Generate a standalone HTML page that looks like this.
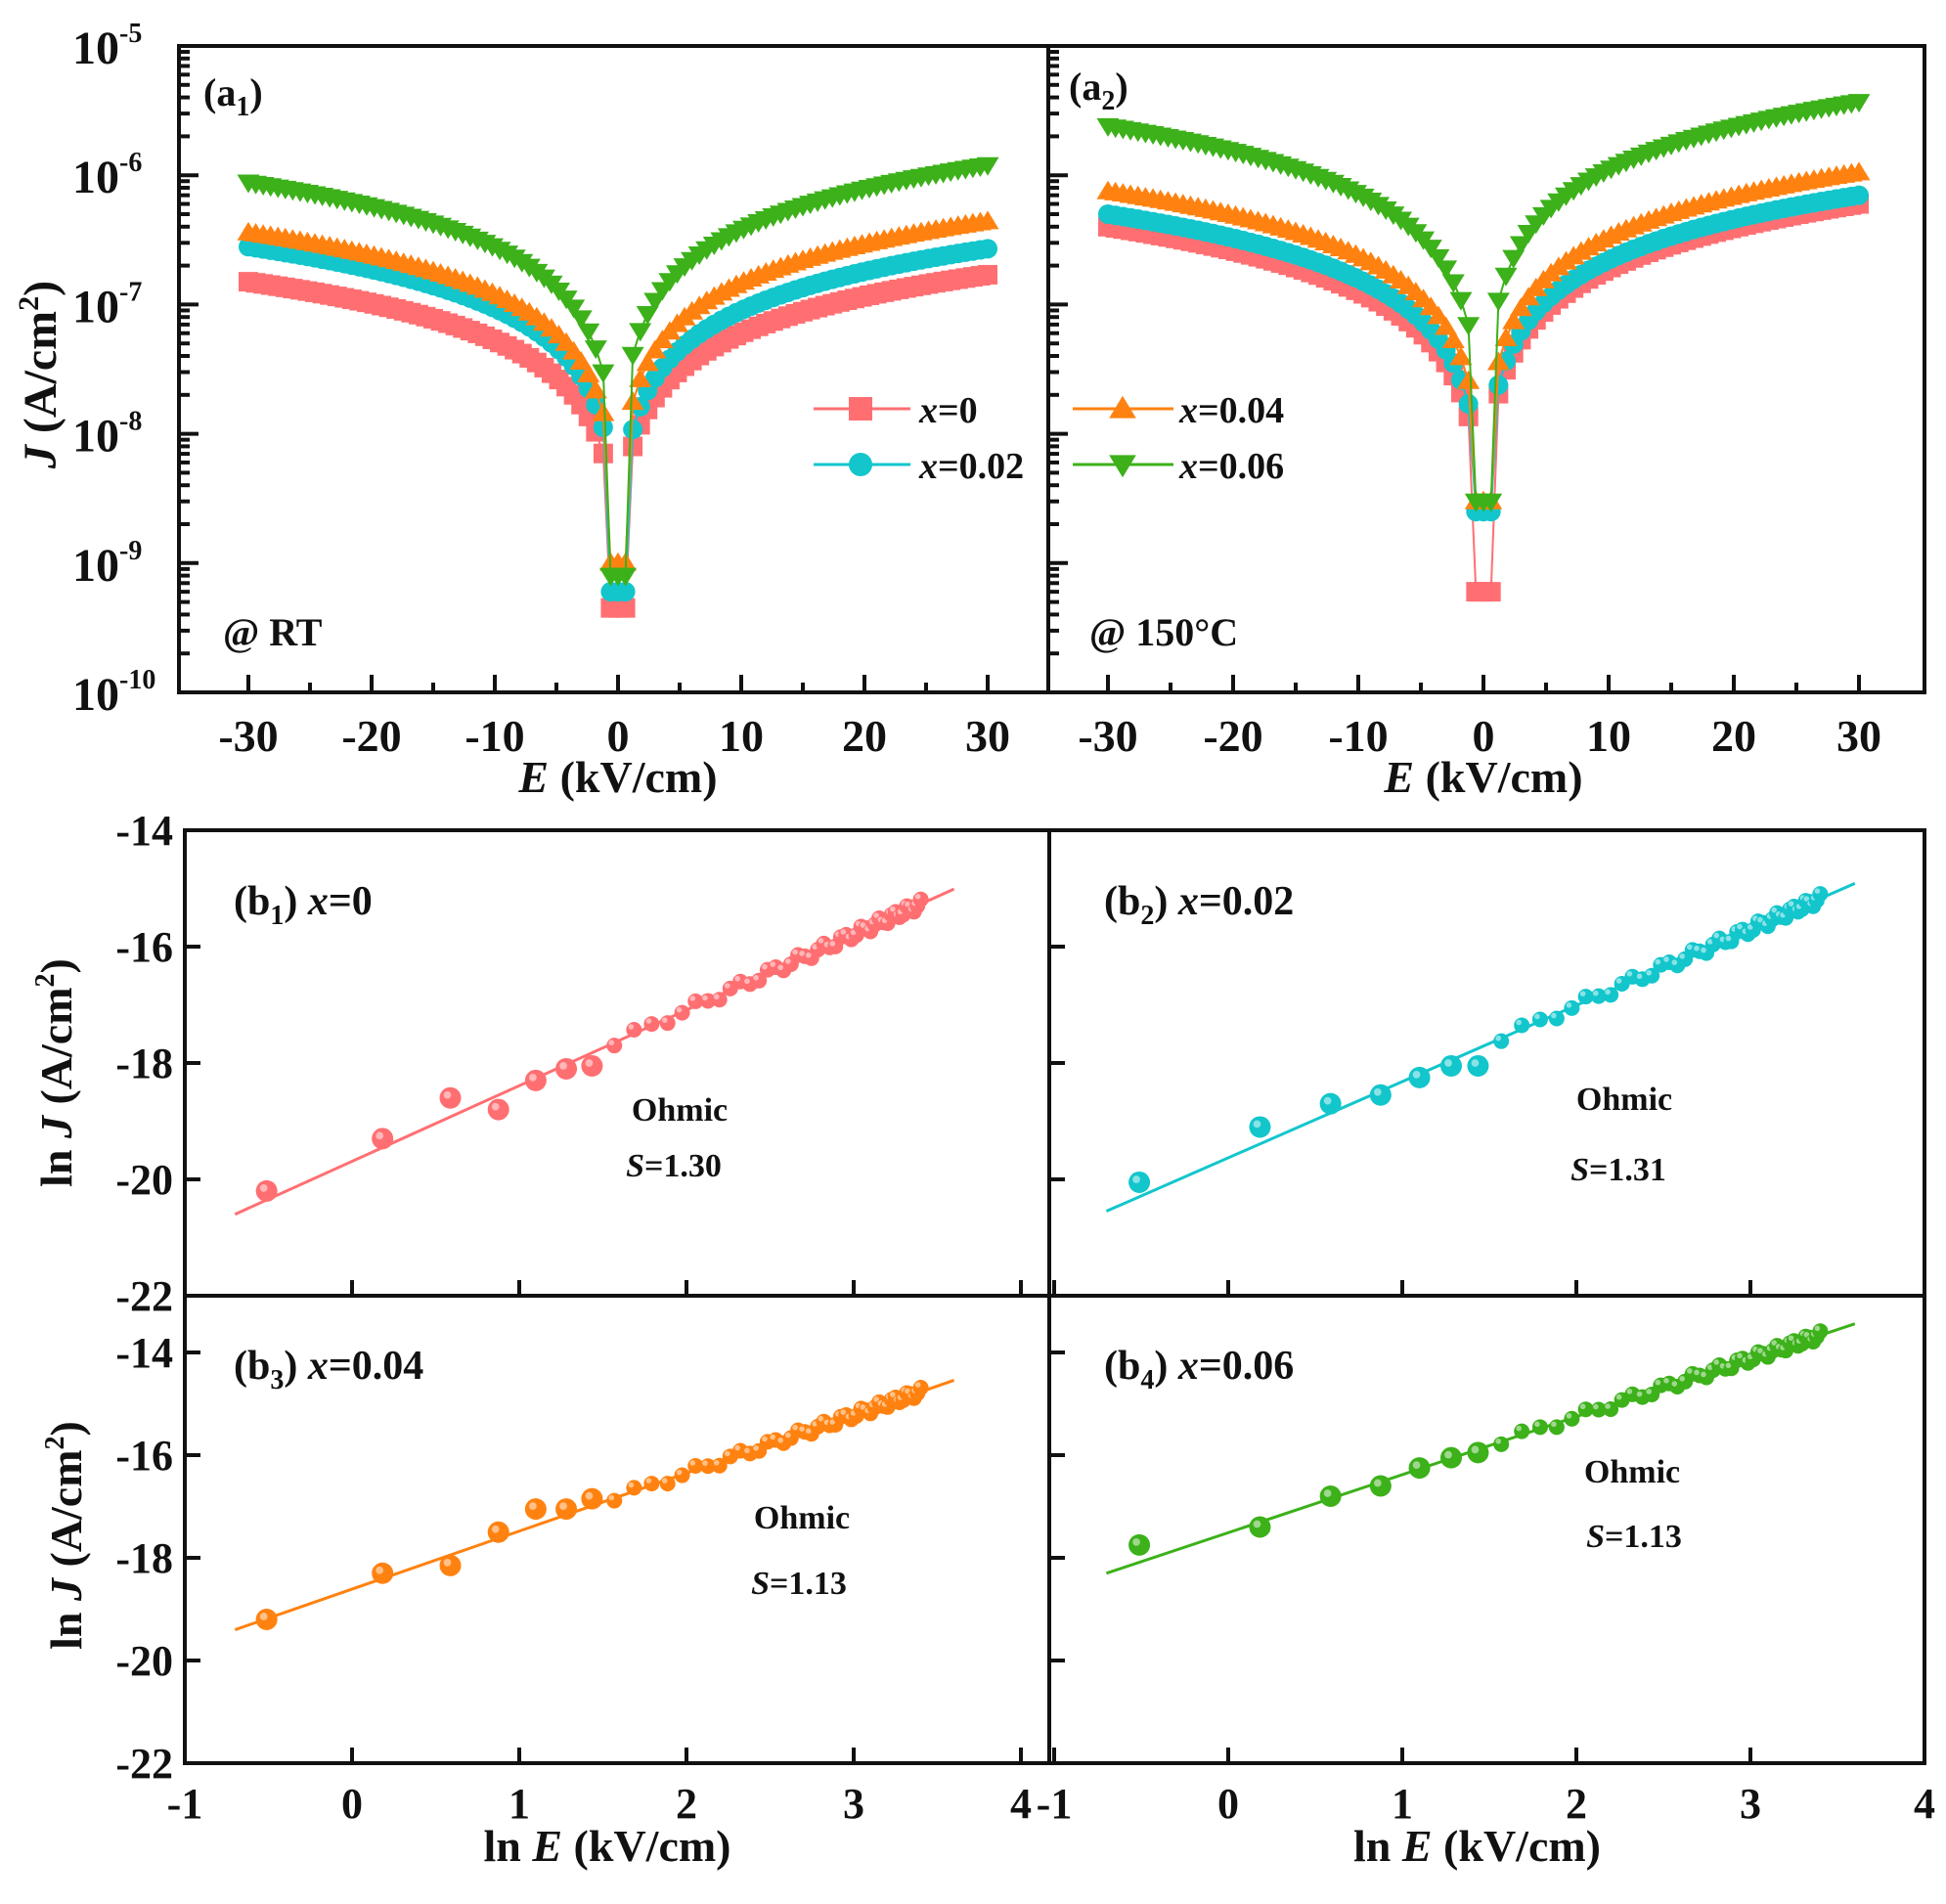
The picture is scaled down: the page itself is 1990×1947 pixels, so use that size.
<!DOCTYPE html>
<html><head><meta charset="utf-8"><style>
html,body{margin:0;padding:0;background:#fff}
svg text{font-family:"Liberation Serif",serif;font-weight:bold;fill:#111}
</style></head><body>
<svg id="s" width="1990" height="1942" viewBox="0 0 1990 1942" xmlns="http://www.w3.org/2000/svg"></svg>
<script>
(function(){
var S=document.getElementById('s'),out='';
function L(x1,y1,x2,y2,c,w){out+='<line x1="'+x1+'" y1="'+y1+'" x2="'+x2+'" y2="'+y2+'" stroke="'+(c||'#111')+'" stroke-width="'+(w||4)+'"/>';}
function T(x,y,t,sz,anc,extra){out+='<text x="'+x+'" y="'+y+'" font-size="'+sz+'" text-anchor="'+(anc||'start')+'" '+(extra||'')+'>'+t+'</text>';}
var C={p:'#ff6f72',c:'#12c6cc',o:'#ff8210',g:'#3cb11a'};
function mk(type,x,y,r,col){
 if(type=='s')out+='<rect x="'+(x-r)+'" y="'+(y-r)+'" width="'+(2*r)+'" height="'+(2*r)+'" fill="'+col+'"/>';
 else if(type=='c')out+='<circle cx="'+x+'" cy="'+y+'" r="'+r+'" fill="'+col+'"/>';
 else if(type=='u')out+='<polygon points="'+x+','+(y-r*1.1)+' '+(x+r*1.15)+','+(y+r*0.8)+' '+(x-r*1.15)+','+(y+r*0.8)+'" fill="'+col+'"/>';
 else out+='<polygon points="'+x+','+(y+r*1.1)+' '+(x+r*1.15)+','+(y-r*0.8)+' '+(x-r*1.15)+','+(y-r*0.8)+'" fill="'+col+'"/>';
}
var TOP=47,BOT=708,DEC=132.2;
function ya(lg){return TOP+(-5-lg)*DEC;}
function panelA(x0,x1,zero,sc,labels,series){
 for(var e=-30;e<=30;e+=5){var x=zero+e*sc;L(x,BOT,x,BOT-(e%10==0?18:10));}
 for(var d=-10;d<=-5;d++){
  var y=ya(d);L(x0,y,x0+20,y);
  if(d<-5)for(var m=2;m<10;m++){var yy=ya(d+Math.log10(m));L(x0,yy,x0+11,yy);}
 }
 if(labels){
  for(var d2=-10;d2<=-5;d2++){T(122,ya(d2)+18,'10',48,'end');T(122,ya(d2)-4,String(d2),28,'start');}
 }
 for(var e2=-30;e2<=30;e2+=10){T(zero+e2*sc,BOT+60,e2==0?'0':String(e2),46,'middle');}
 T(zero,BOT+102,'<tspan font-style="italic">E</tspan> (kV/cm)',46,'middle');
 series.forEach(function(s){
  var pts=[];
  for(var E=-30;E<=30.01;E+=0.6){
   var a=Math.abs(E),J30=E<0?s.l:s.r;
   var lg=Math.log10(J30)+s.p*Math.log10(Math.max(a,0.6)/30);
   if(a<0.7){lg=Math.log10(s.m);}
   pts.push([zero+E*sc,ya(lg)]);
  }
  var dd='M'+pts.map(function(p){return p[0].toFixed(1)+','+p[1].toFixed(1)}).join(' L');
  out+='<path d="'+dd+'" fill="none" stroke="'+s.col+'" stroke-width="2"/>';
  pts.forEach(function(p){mk(s.t,p[0],p[1],10,s.col);});
 });
 out+='<rect x="'+x0+'" y="'+TOP+'" width="'+(x1-x0)+'" height="'+(BOT-TOP)+'" fill="none" stroke="#111" stroke-width="4"/>';
}
panelA(183,1072,632,12.6,true,[
 {t:'s',col:C.p,l:1.5e-7,r:1.7e-7,m:4.5e-10,p:0.95},
 {t:'c',col:C.c,l:2.8e-7,r:2.7e-7,m:6e-10,p:1.0},
 {t:'u',col:C.o,l:3.6e-7,r:4.4e-7,m:1e-9,p:1.0},
 {t:'d',col:C.g,l:8.8e-7,r:1.2e-6,m:8e-10,p:1.05}]);
panelA(1072,1968,1517,12.8,false,[
 {t:'s',col:C.p,l:4e-7,r:6e-7,m:6e-10,p:1.05},
 {t:'c',col:C.c,l:5e-7,r:7e-7,m:2.5e-9,p:1.05},
 {t:'u',col:C.o,l:7.5e-7,r:1.05e-6,m:3e-9,p:1.05},
 {t:'d',col:C.g,l:2.4e-6,r:3.7e-6,m:3e-9,p:1.1}]);
T(57,383,'<tspan font-style="italic">J</tspan> (A/cm<tspan font-size="30" dy="-18">2</tspan><tspan dy="18">)</tspan>',48,'middle','transform="rotate(-90 57 383)"');
T(208,108,'(a<tspan font-size="28" dy="10">1</tspan><tspan dy="-10">)</tspan>',40);
T(1093,102,'(a<tspan font-size="28" dy="10">2</tspan><tspan dy="-10">)</tspan>',40);
T(228,660,'@ RT',40);T(1114,660,'@ 150°C',40);
[[832,931,880,418,'s',C.p,'x=0',940],[832,931,880,475,'c',C.c,'x=0.02',940],[1097,1200,1148,418,'u',C.o,'x=0.04',1206],[1097,1200,1148,475,'d',C.g,'x=0.06',1206]].forEach(function(g){
 L(g[0],g[3],g[1],g[3],g[5],3);mk(g[4],g[2],g[3],12,g[5]);
 T(g[7],g[3]+14,'<tspan font-style="italic">x</tspan>'+g[6].slice(1),38);
});
function panelB(x0,x1,y0,y1,xm1,xs,ytop,ys,lbl,col,line,first,tl,ohm,sl,ylab,xlab){
 function X(v){return xm1+(v+1)*xs;}
 function Y(v){return ytop+(-14-v)*ys;}
 for(var v=-1;v<=4;v++){var x=X(v);if(x>x0+3&&x<x1-3)L(x,y1,x,y1-16);}
 for(var w=-22;w<=-14;w+=2){var y=Y(w);if(y>y0+3&&y<y1-3)L(x0,y,x0+16,y);
  if(ylab)T(x0-12,y+15,String(w),44,'end');}
 if(xlab){for(var u=-1;u<=4;u++)T(X(u),y1+56,String(u),44,'middle');
  T((x0+x1)/2-10,y1+100,'ln <tspan font-style="italic">E</tspan> (kV/cm)',46,'middle');}
 var a=line[0],b=line[1];
 L(X(-0.7),Y(a+b*(-0.7)),X(3.6),Y(a+b*3.6),col,3);
 var pts=[];
 for(var E=0.6;E<=30.01;E+=0.6){var lv=Math.log(E),j;
  var i=Math.round(E/0.6)-1;
  if(i<first.length)j=first[i];else j=a+b*lv+0.08*Math.sin(i*1.7);
  pts.push([X(lv),Y(j),i]);}
 pts.forEach(function(p){var r=p[2]<7?11:8;
  out+='<circle cx="'+p[0]+'" cy="'+p[1]+'" r="'+r+'" fill="'+col+'"/><circle cx="'+(p[0]-3)+'" cy="'+(p[1]-3)+'" r="'+(r*0.35)+'" fill="#fff" opacity="0.5"/>';});
 T(tl[0],tl[1],'(b<tspan font-size="28" dy="10">'+tl[2]+'</tspan><tspan dy="-10">)</tspan>  <tspan font-style="italic">x</tspan>'+tl[3],42);
 T(ohm[0],ohm[1],'Ohmic',34,'middle');
 T(sl[0],sl[1],'<tspan font-style="italic">S</tspan>'+sl[2],34,'middle');
 out+='<rect x="'+x0+'" y="'+y0+'" width="'+(x1-x0)+'" height="'+(y1-y0)+'" fill="none" stroke="#111" stroke-width="4"/>';
}
panelB(189,1073,849,1325,189,171,849,59.5,true,C.p,[-19.69,1.30],[-20.2,-19.3,-18.6,-18.8,-18.3,-18.1,-18.05],[239,935,'1','=0'],[695,1146],[689,1203,'=1.30'],true,false);
panelB(1073,1968,849,1325,1078,178,849,59.5,false,C.c,[-19.63,1.31],[-20.05,-19.1,-18.7,-18.55,-18.25,-18.05,-18.05],[1129,935,'2','=0.02'],[1661,1135],[1655,1207,'=1.31'],false,false);
panelB(189,1073,1325,1803,189,171,1383,52.5,true,C.o,[-18.61,1.13],[-19.2,-18.3,-18.15,-17.5,-17.05,-17.05,-16.85],[239,1410,'3','=0.04'],[820,1563],[817,1630,'=1.13'],true,true);
panelB(1073,1968,1325,1803,1078,178,1383,52.5,false,C.g,[-17.51,1.13],[-17.75,-17.4,-16.8,-16.6,-16.25,-16.05,-15.95],[1129,1410,'4','=0.06'],[1669,1516],[1671,1582,'=1.13'],false,true);
T(73,1097,'ln <tspan font-style="italic">J</tspan> (A/cm<tspan font-size="28" dy="-18">2</tspan><tspan dy="18">)</tspan>',46,'middle','transform="rotate(-90 73 1097)"');
T(83,1570,'ln <tspan font-style="italic">J</tspan> (A/cm<tspan font-size="28" dy="-18">2</tspan><tspan dy="18">)</tspan>',46,'middle','transform="rotate(-90 83 1570)"');
S.innerHTML=out;
})();
</script>
</body></html>
